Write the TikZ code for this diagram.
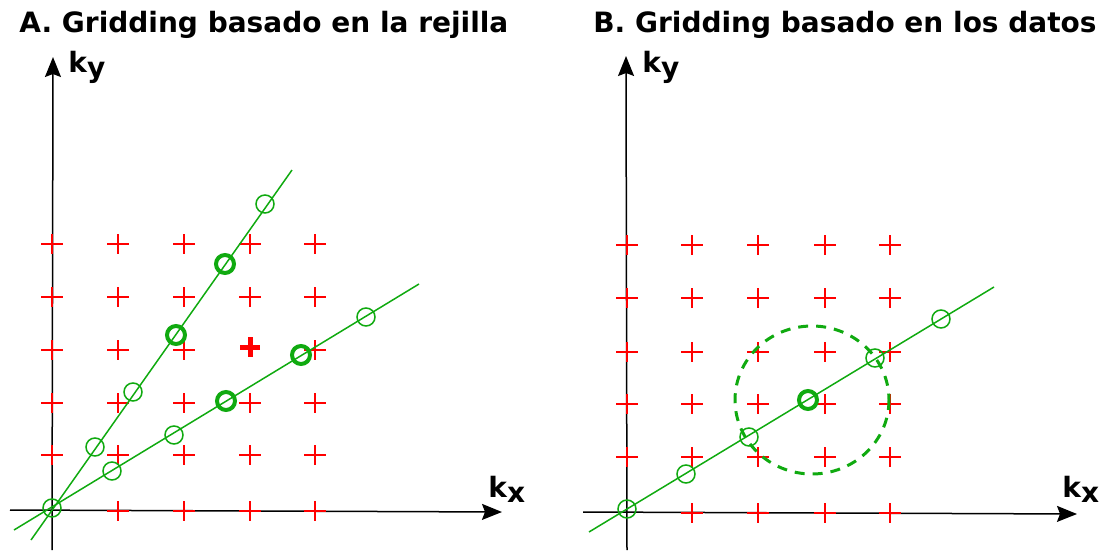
\documentclass[tikz,border=0pt]{standalone}
\usepackage{fontspec}
\setmainfont{DejaVu Sans}
\usetikzlibrary{arrows.meta}
\definecolor{rojoCruz}{RGB}{255, 0, 0}
\definecolor{verdeMuestra}{RGB}{16, 170, 16}
\newcommand{\ksub}[1]{k\raisebox{-2.5pt}{#1}}

\begin{document}
\begin{tikzpicture}[x=0.5pt, y=-0.5pt,
    eje/.style={line width=0.75pt, -{Stealth[length=10pt, width=8pt, inset=1.5pt]}},
    cruz/.style={rojoCruz, line width=1pt},
    cruzgorda/.style={rojoCruz, line width=2.5pt},
    traza/.style={verdeMuestra, line width=0.75pt},
    muestra/.style={circle, draw=verdeMuestra, line width=0.75pt, minimum size=9pt, inner sep=0pt},
    muestragorda/.style={muestra, line width=2pt},
    vecindad/.style={verdeMuestra, line width=1.5pt, dash pattern=on 5pt off 4pt},
    rotulo/.style={anchor=base west, inner sep=0pt, font=\bfseries\fontsize{14}{16}\selectfont}]
  \useasboundingbox (0,0) rectangle (1104,552);

  % titles
  \node[rotulo] (titA) at (19,32) {A. Gridding basado en la rejilla};
  \node[rotulo] (titB) at (593,32) {B. Gridding basado en los datos};

  % ---- panel A: grid driven ----
  \coordinate (ejeAx0) at (10,510);
  \coordinate (ejeAx1) at (502,512);
  \coordinate (ejeAy0) at (52,550);
  \coordinate (ejeAy1) at (53,57);
  \draw[eje] (ejeAx0) -- (ejeAx1);
  \draw[eje] (ejeAy0) -- (ejeAy1);
  \node[rotulo] (kyA) at (68,72) {\ksub{y}};
  \node[rotulo] (kxA) at (488,497) {\ksub{x}};

  % cartesian grid points
  \foreach \y in {244,297,403,455}
    \foreach \x in {52,118,184,250,315}
      \draw[cruz] (\x,\y) +(-11,0) -- +(11,0) +(0,-10) -- +(0,10);
  \foreach \x in {52,118,184,315}
    \draw[cruz] (\x,350) +(-11,0) -- +(11,0) +(0,-10) -- +(0,10);
  \foreach \x in {118,184,250,315}
    \draw[cruz] (\x,511) +(-11,0) -- +(11,0) +(0,-10) -- +(0,10);
  % grid point being computed
  \draw[cruzgorda] (250,347) +(-10,0) -- +(10,0) +(0,-10) -- +(0,10);

  % radial trajectories
  \coordinate (radA0) at (31,540);
  \coordinate (radA1) at (292,170);
  \coordinate (radB0) at (14,530);
  \coordinate (radB1) at (419,284);
  \draw[traza] (radA0) -- (radA1);
  \draw[traza] (radB0) -- (radB1);

  \node[muestra] (orA) at (52,508) {};
  \node[muestra] (a1) at (95,447) {};
  \node[muestra] (a2) at (133,392) {};
  \node[muestragorda] (a3) at (176,335) {};
  \node[muestragorda] (a4) at (225,264) {};
  \node[muestra] (a5) at (265,204) {};
  \node[muestra] (b1) at (112,471) {};
  \node[muestra] (b2) at (174,435) {};
  \node[muestragorda] (b3) at (226,401) {};
  \node[muestragorda] (b4) at (301,355) {};
  \node[muestra] (b5) at (366,317) {};

  % ---- panel B: data driven ----
  \coordinate (ejeBx0) at (583,512);
  \coordinate (ejeBx1) at (1077,514);
  \coordinate (ejeBy0) at (627,550);
  \coordinate (ejeBy1) at (626,56);
  \draw[eje] (ejeBx0) -- (ejeBx1);
  \draw[eje] (ejeBy0) -- (ejeBy1);
  \node[rotulo] (kyB) at (642,72) {\ksub{y}};
  \node[rotulo] (kxB) at (1062,497) {\ksub{x}};

  \foreach \y in {245,298,352,404,457}
    \foreach \x in {627,692,758,825,890}
      \draw[cruz] (\x,\y) +(-11,0) -- +(11,0) +(0,-10) -- +(0,10);
  \foreach \x in {692,758,825,890}
    \draw[cruz] (\x,513) +(-11,0) -- +(11,0) +(0,-10) -- +(0,10);

  % trajectory and kernel window
  \coordinate (radC0) at (589,532);
  \coordinate (radC1) at (994,287);
  \draw[traza] (radC0) -- (radC1);
  \coordinate (cvec) at (812,400);
  \draw[vecindad] (cvec) ellipse [x radius=77, y radius=74];

  \node[muestra] (orB) at (627,509) {};
  \node[muestra] (c1) at (686,474) {};
  \node[muestra] (c2) at (749,437) {};
  \node[muestragorda] (c3) at (808,400) {};
  \node[muestra] (c4) at (875,358) {};
  \node[muestra] (c5) at (941,319) {};
\end{tikzpicture}
\end{document}
